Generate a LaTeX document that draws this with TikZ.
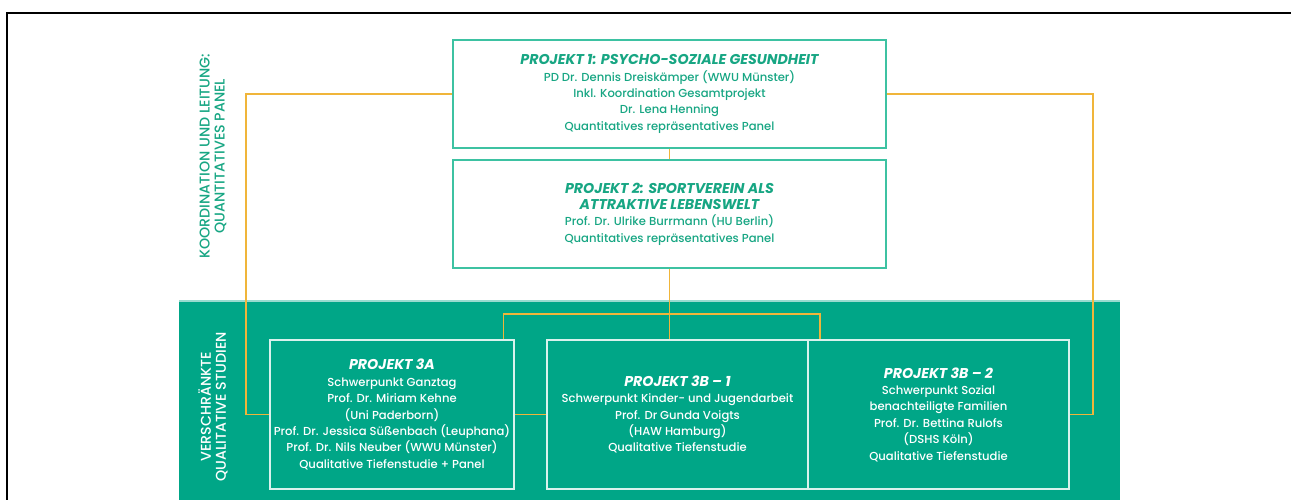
\documentclass[tikz,border=0pt]{standalone}
\usepackage{fontspec}
\setmainfont{Poppins}[UprightFont=* Medium, BoldItalicFont=* Bold Italic]
\usetikzlibrary{positioning, calc}

\definecolor{projgreen}{HTML}{17A683}
\definecolor{boxline}{HTML}{3DC2A2}
\definecolor{bandgreen}{HTML}{00A687}
\definecolor{linkgold}{HTML}{F0B53A}

\tikzset{
  proj/.style={draw=boxline, line width=1.6pt, fill=white, text=projgreen,
    align=center, inner sep=0pt, minimum width=433pt, minimum height=108pt,
    font=\fontsize{11.6}{16.4}\selectfont},
  qual/.style={draw=white!85!bandgreen, line width=1.6pt, text=white,
    align=center, inner sep=0pt, minimum height=149pt,
    font=\fontsize{11.6}{16.4}\selectfont},
  link/.style={linkgold, line width=1.5pt},
  side/.style={rotate=90, align=center, font=\fontsize{14.2}{15}\selectfont}
}
\newcommand{\head}[1]{{\fontsize{14.2}{16.4}\selectfont\bfseries\itshape #1}}

\begin{document}
\begin{tikzpicture}[x=1pt, y=-1pt]
    \useasboundingbox (0,0) rectangle (1291,500);
    \draw[line width=2.4pt] (7,502) -- (7,13) -- (1293,13);

    % band for the qualitative studies
    \fill[bandgreen] (179,300) rectangle (1120,502);
    \fill[white!60!bandgreen] (179,300) rectangle (1120,301.5);

    \node[side, text=projgreen] (lead) at (213,156)
        {KOORDINATION UND LEITUNG:\\QUANTITATIVES PANEL};
    \node[side, text=white] (qlab) at (213,407)
        {VERSCHRÄNKTE\\QUALITATIVE STUDIEN};

    \node[proj] (p1) at (669.5,94) {\head{PROJEKT 1: PSYCHO-SOZIALE GESUNDHEIT}\\
        PD Dr. Dennis Dreiskämper (WWU Münster)\\
        Inkl. Koordination Gesamtprojekt\\
        Dr. Lena Henning\\
        Quantitatives repräsentatives Panel};
    \node[proj] (p2) at (669.5,214) {\head{PROJEKT 2: SPORTVEREIN ALS}\\
        \head{ATTRAKTIVE LEBENSWELT}\\
        Prof. Dr. Ulrike Burrmann (HU Berlin)\\
        Quantitatives repräsentatives Panel};

    \node[qual, minimum width=244pt] (p3a) at (392,414.5) {\head{PROJEKT 3A}\\
        Schwerpunkt Ganztag\\
        Prof. Dr. Miriam Kehne\\
        (Uni Paderborn)\\
        Prof. Dr. Jessica Süßenbach (Leuphana)\\
        Prof. Dr. Nils Neuber (WWU Münster)\\
        Qualitative Tiefenstudie + Panel};
    \node[qual, minimum width=261pt] (p3b1) at (677.5,414.5) {\head{PROJEKT 3B – 1}\\
        Schwerpunkt Kinder- und Jugendarbeit\\
        Prof. Dr Gunda Voigts\\
        (HAW Hamburg)\\
        Qualitative Tiefenstudie};
    \node[qual, minimum width=261pt] (p3b2) at (938.5,414.5) {\head{PROJEKT 3B – 2}\\
        Schwerpunkt Sozial\\
        benachteiligte Familien\\
        Prof. Dr. Bettina Rulofs\\
        (DSHS Köln)\\
        Qualitative Tiefenstudie};

    \coordinate (forkL) at (503.5,314);
    \coordinate (forkR) at (820,314);
    \coordinate (sideL) at (246,250);
    \coordinate (sideR) at (1093,250);

    \draw[link] (p1) -- (p2);
    \draw[link] (p2.south) -- (p2.south |- p3b1.north);
    \draw[link] (p3a.north -| forkL) -- (forkL) -- (forkR) -- (p3b2.north -| forkR);
    \draw[link] (p3a.east) -- (p3b1.west);
    \draw[link] (p1.west) -| (sideL) |- (p3a.west);
    \draw[link] (p1.east) -| (sideR) |- (p3b2.east);
\end{tikzpicture}
\end{document}
